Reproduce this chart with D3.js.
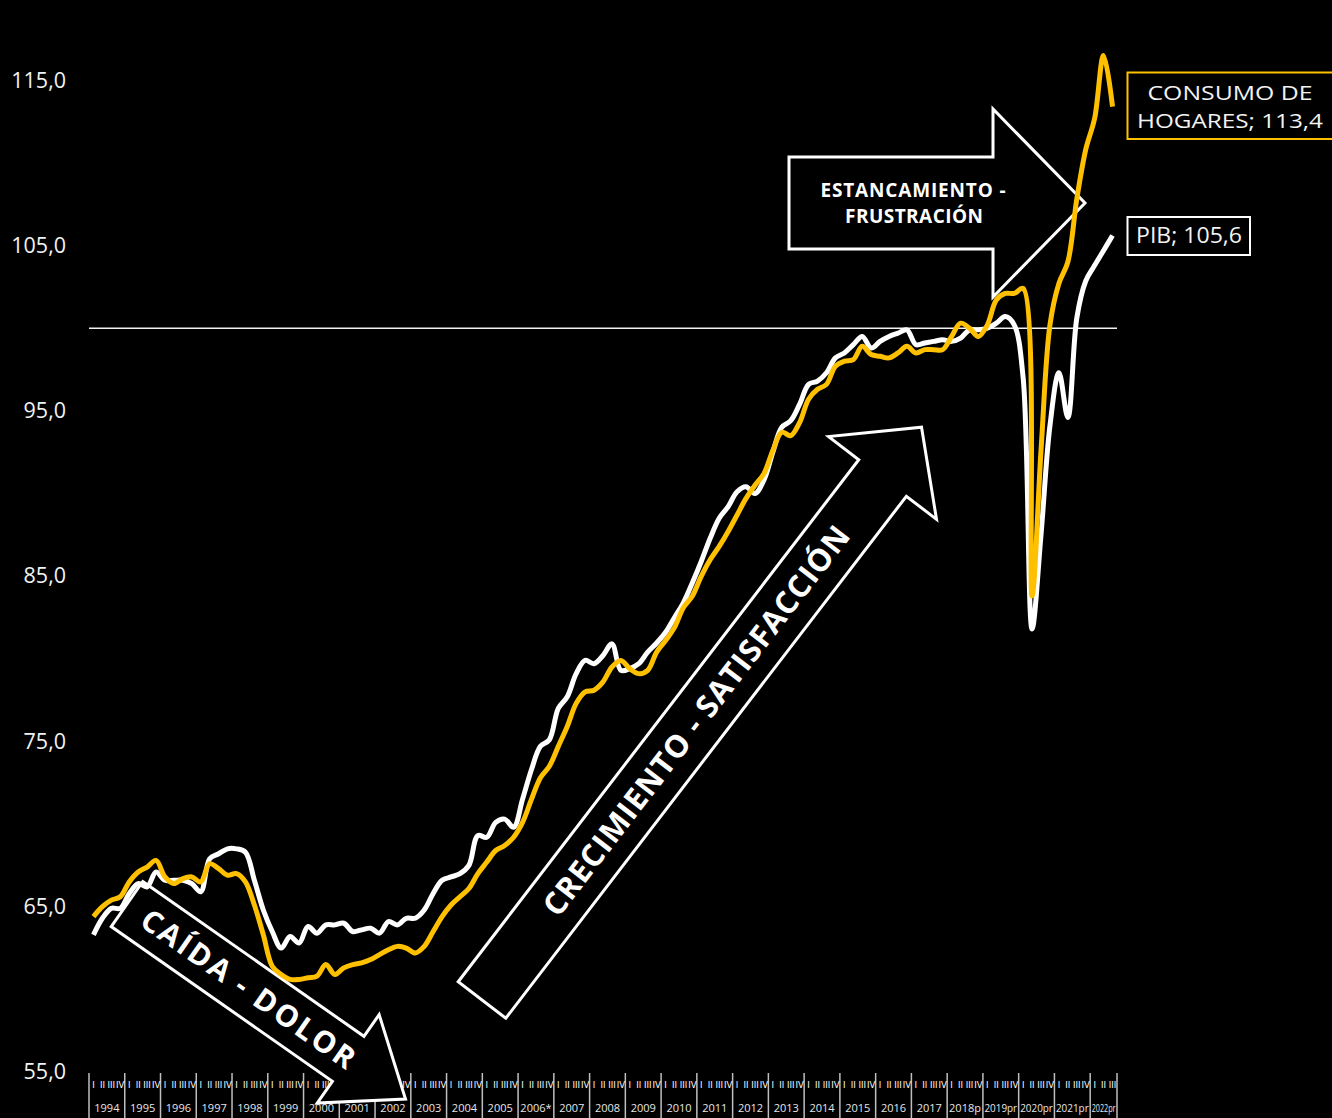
<!DOCTYPE html>
<html>
<head>
<meta charset="utf-8">
<script src="https://cdn.jsdelivr.net/npm/d3@7"></script>
<style>
html,body{margin:0;padding:0;background:#000;}
svg{display:block;}
</style>
</head>
<body>
<svg id="chart" width="1332" height="1118"></svg>
<script>
// ---------------- DATA ----------------
const years = ["1994","1995","1996","1997","1998","1999","2000","2001","2002","2003","2004","2005","2006*","2007","2008","2009","2010","2011","2012","2013","2014","2015","2016","2017","2018p","2019pr","2020pr","2021pr","2022pr"];
const quarterLabels = ["I","II","III","IV"];
const yTicks = [55,65,75,85,95,105,115];

const pib = [63.3,64.3,64.9,64.9, 65.8,66.4,66.2,67.1, 66.6,66.6,66.6,66.4, 65.9,67.9,68.2,68.5,
  68.5,68.3,66.6,64.8, 63.5,62.5,63.2,62.8, 63.8,63.4,63.9,63.9, 64.0,63.5,63.6,63.7,
  63.4,64.1,63.9,64.3, 64.3,64.8,65.8,66.6, 66.8,67.0,67.5,69.3, 69.2,70.1,70.3,69.8,
  71.5,73.3,74.7,75.1, 77.0,77.7,79.1,79.9, 79.7,80.2,80.9,79.3, 79.4,79.7,80.4,80.95,
  81.6,82.5,83.4,84.6, 85.9,87.3,88.5,89.2, 90.1,90.4,90.0,90.8, 92.5,94.0,94.4,95.4,
  96.6,96.8,97.3,98.2, 98.5,99.0,99.5,98.8, 99.2,99.5,99.7,99.9, 99.0,99.1,99.2,99.3,
  99.2,99.4,99.9,99.9, 100.0,100.3,100.7,100.2, 97.0,81.8,87.5,94.1, 97.3,94.6,100.6,102.85,
  103.8,104.7,105.6];

const consumo = [64.4,65.0,65.4,65.6, 66.5,67.1,67.4,67.8, 66.8,66.4,66.7,66.8, 66.5,67.6,67.3,66.9,
  67.0,66.5,65.1,63.3, 61.4,60.9,60.6,60.6, 60.7,60.8,61.5,60.9, 61.3,61.5,61.6,61.8,
  62.1,62.4,62.6,62.5, 62.2,62.6,63.5,64.4, 65.1,65.6,66.1,67.0, 67.7,68.4,68.7,69.2,
  70.1,71.5,72.8,73.5, 74.7,75.9,77.3,78.0, 78.1,78.6,79.5,79.9, 79.4,79.1,79.3,80.4,
  81.1,81.9,83.1,83.8, 85.0,86.0,86.8,87.7, 88.7,89.7,90.5,91.2, 92.6,93.7,93.5,94.3,
  95.7,96.3,96.6,97.7, 98.0,98.1,98.9,98.4, 98.3,98.2,98.5,98.9, 98.5,98.7,98.7,98.7,
  99.5,100.3,100.0,99.5, 100.2,101.7,102.1,102.1, 102.4,83.8,92.6,100.2, 102.7,104.0,107.8,110.8,
  112.7,116.5,113.4];

const seriesNames = ["CONSUMO DE HOGARES","PIB"];
const refValue = 100;

// ---------------- CHART ----------------
const svg = d3.select("#chart");
const W = 1332, H = 1118;
svg.append("rect").attr("width",W).attr("height",H).attr("fill","#000");

const n = pib.length;
const categories = d3.range(n).map(i => ({i, year: years[Math.floor(i/4)], q: quarterLabels[i%4]}));

const x = d3.scaleBand().domain(d3.range(n)).range([89,1117]).padding(0);
const y = d3.scaleLinear().domain([55,115]).range([1072,80.2]);
const cx = i => x(i) + x.bandwidth()/2;

const FONT = "'Open Sans', 'Noto Sans', sans-serif";
const locale = d3.formatLocale({decimal:",", thousands:".", grouping:[3], currency:["$",""]});
const fmt = locale.format(".1f");

// Y axis
const yAxis = svg.append("g").attr("transform","translate(89,0)")
  .call(d3.axisLeft(y).tickValues(yTicks).tickSize(0).tickPadding(23).tickFormat(fmt));
yAxis.select(".domain").remove();
yAxis.selectAll("text").attr("fill","#f2f2f2").style("font-family",FONT).style("font-size","21.5px");

// X axis (multi-level category)
const xg = svg.append("g");
const yearStarts = d3.range(0, n, 4);
xg.selectAll("line.sep").data(yearStarts.concat([n])).join("line")
  .attr("class","sep")
  .attr("x1", d => d < n ? x(d) : x(n-1)+x.bandwidth())
  .attr("x2", d => d < n ? x(d) : x(n-1)+x.bandwidth())
  .attr("y1",1073).attr("y2",1118)
  .attr("stroke","#bfbfbf").attr("stroke-width",1.5);
xg.selectAll("text.q").data(categories).join("text")
  .attr("class","q")
  .attr("x", d => cx(d.i)).attr("y",1088)
  .attr("text-anchor","middle")
  .attr("fill","#ffffff").style("font-family","'DejaVu Sans', sans-serif").style("font-size","8.5px")
  .text(d => d.q);
xg.selectAll("text.yr").data(yearStarts).join("text")
  .attr("class","yr")
  .attr("x", d => { const e = Math.min(d+4,n); return (x(d) + x(e-1)+x.bandwidth())/2; })
  .attr("y",1112)
  .attr("text-anchor","middle")
  .attr("fill","#e6e6e6").style("font-family",FONT).style("font-size","11px")
  .text(d => years[d/4])
  .each(function(d){
    const e = Math.min(d+4,n);
    const avail = x(e-1)+x.bandwidth() - x(d) - 3;
    if (this.getComputedTextLength() > avail) {
      d3.select(this).attr("textLength", avail).attr("lengthAdjust","spacingAndGlyphs");
    }
  });

// Reference line at 100
svg.append("line")
  .attr("x1", x(0)).attr("x2", x(n-1)+x.bandwidth())
  .attr("y1", y(refValue)).attr("y2", y(refValue))
  .attr("stroke","#f2f2f2").attr("stroke-width",1.5);

// Annotation arrows
function arrow(g, L, bw, hw, hl){
  const pts = [[0,-bw],[L,-bw],[L,-hw],[L+hl,0],[L,hw],[L,bw],[0,bw]];
  g.append("polygon").attr("points", pts.map(p=>p.join(",")).join(" "))
    .attr("fill","#000").attr("stroke","#fff").attr("stroke-width",3).attr("stroke-linejoin","miter");
}
const BOLD = "'Open Sans', 'Noto Sans', sans-serif";

const a1 = svg.append("g").attr("transform","translate(127,904) rotate(35)");
arrow(a1, 270, 27.5, 54, 70);
a1.append("text").attr("x",148).attr("y",0).attr("dy","0.35em").attr("text-anchor","middle")
  .attr("fill","#fff").style("font-family",BOLD).style("font-weight","700").style("font-size","30px")
  .attr("textLength",254).text("CAÍDA - DOLOR");

const a2 = svg.append("g").attr("transform","translate(482,1000) rotate(-52.5)");
arrow(a2, 658, 30, 68, 64);
a2.append("text").attr("x",352).attr("y",0).attr("dy","0.35em").attr("text-anchor","middle")
  .attr("fill","#fff").style("font-family",BOLD).style("font-weight","700").style("font-size","31px")
  .attr("textLength",482).text("CRECIMIENTO - SATISFACCIÓN");

const a3 = svg.append("g").attr("transform","translate(789,203)");
arrow(a3, 204, 46, 94, 92);
a3.append("text").attr("x",124).attr("y",-6).attr("text-anchor","middle")
  .attr("fill","#fff").style("font-family",BOLD).style("font-weight","700").style("font-size","19px")
  .attr("textLength",185).text("ESTANCAMIENTO -");
a3.append("text").attr("x",125).attr("y",20).attr("text-anchor","middle")
  .attr("fill","#fff").style("font-family",BOLD).style("font-weight","700").style("font-size","19px")
  .attr("textLength",138).text("FRUSTRACIÓN");

// Lines
const line = d3.line().x((d,i)=>cx(i)).y(d=>y(d)).curve(d3.curveCatmullRom.alpha(0.5));
svg.append("path").datum(pib).attr("d",line)
  .attr("fill","none").attr("stroke","#ffffff").attr("stroke-width",5).attr("stroke-linejoin","round");
svg.append("path").datum(consumo).attr("d",line)
  .attr("fill","none").attr("stroke","#FFC000").attr("stroke-width",5).attr("stroke-linejoin","round");

// Data labels
const lc = fmt(consumo[n-1]), lp = fmt(pib[n-1]);
const b1 = svg.append("g");
b1.append("rect").attr("x",1127.5).attr("y",72.5).attr("width",210).attr("height",66.5)
  .attr("fill","#000").attr("stroke","#FFC000").attr("stroke-width",2);
b1.append("text").attr("x",1230).attr("y",100).attr("text-anchor","middle")
  .attr("fill","#f2f2f2").style("font-family",FONT).style("font-size","20px")
  .attr("textLength",165).attr("lengthAdjust","spacingAndGlyphs").text("CONSUMO DE");
b1.append("text").attr("x",1230).attr("y",128).attr("text-anchor","middle")
  .attr("fill","#f2f2f2").style("font-family",FONT).style("font-size","20px")
  .attr("textLength",186).attr("lengthAdjust","spacingAndGlyphs").text("HOGARES; " + lc);

const b2 = svg.append("g");
b2.append("rect").attr("x",1127.5).attr("y",217).attr("width",122.5).attr("height",38)
  .attr("fill","#000").attr("stroke","#fff").attr("stroke-width",2);
b2.append("text").attr("x",1189).attr("y",243).attr("text-anchor","middle")
  .attr("fill","#f2f2f2").style("font-family",FONT).style("font-size","21px")
  .attr("textLength",106).attr("lengthAdjust","spacingAndGlyphs").text("PIB; " + lp);
</script>
</body>
</html>
